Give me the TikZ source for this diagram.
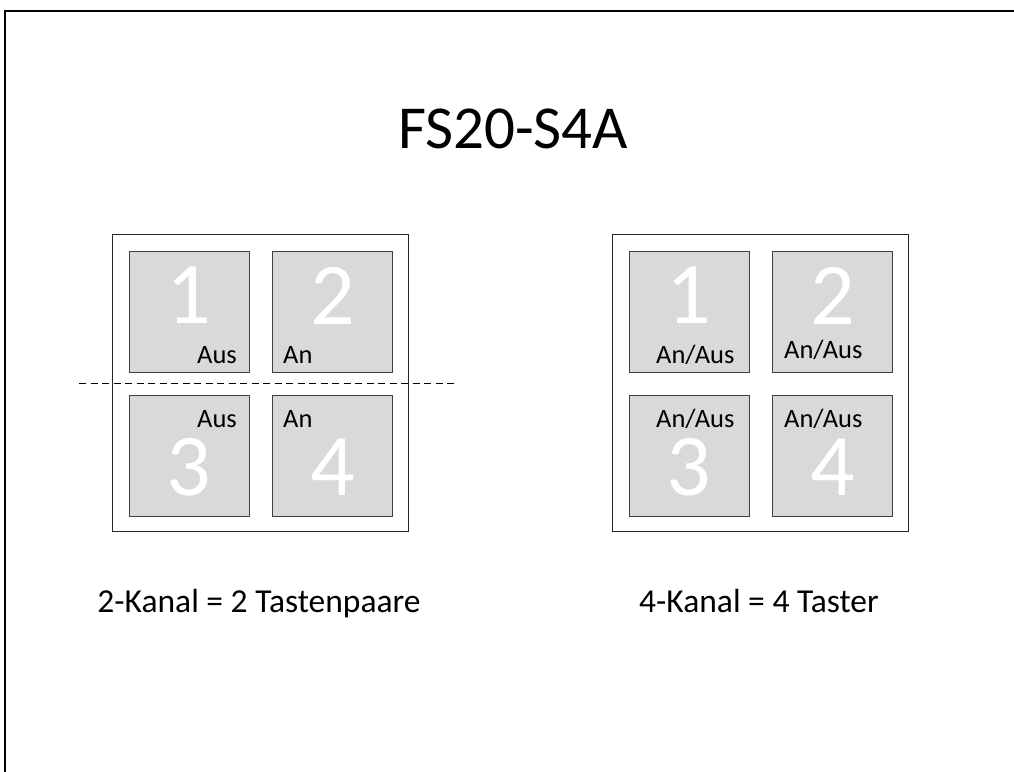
\documentclass[tikz,border=0pt]{standalone}
\usepackage{fontspec}
\setmainfont{Carlito}
\usetikzlibrary{positioning}
\definecolor{keyFill}{HTML}{D9D9D9}
\definecolor{keyLine}{HTML}{404040}
\definecolor{boxLine}{HTML}{262626}
\tikzset{
  panel/.style={
    rectangle, draw=boxLine, line width=1pt, fill=white,
    minimum width=296pt, minimum height=297pt, inner sep=0pt
  },
  key/.style={
    rectangle, draw=keyLine, line width=0.9pt, fill=keyFill,
    minimum width=120pt, minimum height=121pt, inner sep=0pt
  },
  digit/.style={text=white, font=\fontsize{88}{88}\selectfont, inner sep=0pt},
  state/.style={text=black, font=\fontsize{26.5}{26.5}\selectfont, inner sep=0pt},
  caption/.style={text=black, font=\fontsize{33.5}{33.5}\selectfont, inner sep=0pt}
}
\begin{document}
\begin{tikzpicture}[x=1pt, y=-1pt]
\useasboundingbox (0,0) rectangle (1014,771);

% ---------------- Frame ----------------
\draw[line width=2pt] (5,775) -- (5,11) -- (1020,11);

\node[font=\fontsize{61}{61}\selectfont] (title) at (513,129) {FS20-S4A};

% ---------------- 2-Kanal ----------------
\node[panel] (twoch) at (260,382.5) {};
\node[key] (a1) at (189,311.5) {};
\node[key] (a2) at (332.5,311.5) {};
\node[key] (a3) at (189,455.5) {};
\node[key] (a4) at (332.5,455.5) {};
\node[digit] at ([yshift=16pt]a1.center) {1};
\node[digit] at ([yshift=16pt]a2.center) {2};
\node[digit] at ([yshift=-11.5pt]a3.center) {3};
\node[digit] at ([yshift=-11.5pt]a4.center) {4};
\node[state, anchor=base east] at (237,363) {Aus};
\node[state, anchor=base west] at (283,363) {An};
\node[state, anchor=base east] at (237,427) {Aus};
\node[state, anchor=base west] at (283,427) {An};
\coordinate (cutL) at (79,383);
\coordinate (cutR) at (455,383);
\draw[line width=1pt, dash pattern=on 7pt off 4.5pt] (cutL) -- (cutR);
\node[caption, anchor=base] (capL) at (259,612) {2-Kanal = 2 Tastenpaare};

% ---------------- 4-Kanal ----------------
\node[panel] (fourch) at (760,382.5) {};
\node[key] (b1) at (689,311.5) {};
\node[key] (b2) at (832.5,311.5) {};
\node[key] (b3) at (689,455.5) {};
\node[key] (b4) at (832.5,455.5) {};
\node[digit] at ([yshift=16pt]b1.center) {1};
\node[digit] at ([yshift=16pt]b2.center) {2};
\node[digit] at ([yshift=-11.5pt]b3.center) {3};
\node[digit] at ([yshift=-11.5pt]b4.center) {4};
\node[state, anchor=base west] at (656,363) {An/Aus};
\node[state, anchor=base west] at (784,358) {An/Aus};
\node[state, anchor=base west] at (656,427) {An/Aus};
\node[state, anchor=base west] at (784,427) {An/Aus};
\node[caption, anchor=base] (capR) at (759,612) {4-Kanal = 4 Taster};

\end{tikzpicture}
\end{document}
